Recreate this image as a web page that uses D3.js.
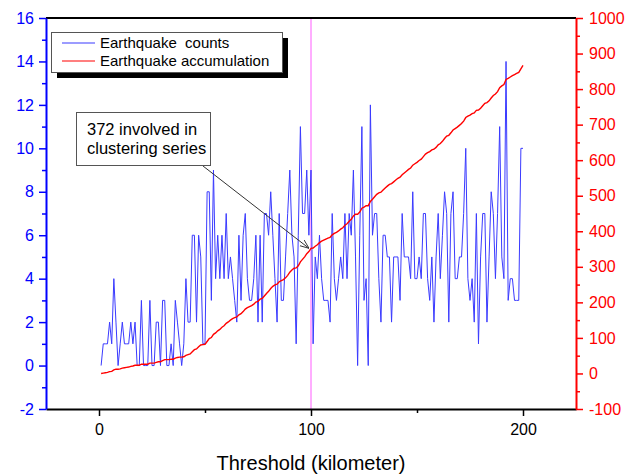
<!DOCTYPE html>
<html>
<head>
<meta charset="utf-8">
<script src="https://cdn.jsdelivr.net/npm/d3@7/dist/d3.min.js"></script>
<style>
  body { margin: 0; background: #fff; }
  text { font-family: Arial, "Liberation Sans", sans-serif; }
</style>
</head>
<body>
<svg id="chart" width="637" height="475"></svg>
<script>
// earthquake counts for threshold 1..200 km
var counts = [
  0,1,1,1,2,1,4,2,0,1,
  2,1,1,1,2,1,2,0,0,3,
  0,0,0,3,0,0,2,2,0,3,
  3,0,0,1,0,3,2,1,0,1,
  4,2,2,6,6,2,6,5,1,1,
  8,8,3,9,4,6,4,6,4,7,
  4,5,4,3,2,6,3,6,7,4,
  3,3,4,6,2,6,2,7,7,6,
  8,6,4,2,7,3,3,5,7,9,
  6,5,1,6,11,7,7,9,6,9,
  1,5,4,6,4,3,3,3,2,7,
  4,3,4,5,4,7,4,7,6,9,
  5,0,6,11,3,4,0,12,6,7,
  7,4,2,6,6,5,5,2,5,5,
  5,3,7,5,5,5,4,8,4,4,
  5,4,7,7,4,3,5,2,5,7,
  4,6,8,7,2,7,8,4,4,5,
  5,7,10,4,3,4,2,7,1,5,
  7,7,2,5,8,7,4,7,11,5,
  4,14,3,4,4,3,3,3,10,10
];

// accumulated earthquakes (right axis)
var accumulation = [
  0,1,2,3,5,6,10,12,12,13,
  15,16,17,18,20,21,23,23,23,26,
  26,26,26,29,29,29,31,33,33,36,
  39,39,39,40,40,43,45,46,46,47,
  51,53,55,61,67,69,75,80,81,82,
  90,98,101,110,114,120,124,130,134,141,
  145,150,154,157,159,165,168,174,181,185,
  188,191,195,201,203,209,211,218,225,231,
  239,245,249,251,258,261,264,269,276,285,
  291,296,297,303,314,321,328,337,343,352,
  353,358,362,368,372,375,378,381,383,390,
  394,397,401,406,410,417,421,428,434,443,
  448,448,454,465,468,472,472,484,490,497,
  504,508,510,516,522,527,532,534,539,544,
  549,552,559,564,569,574,578,586,590,594,
  599,603,610,617,621,624,629,631,636,643,
  647,653,661,668,670,677,685,689,693,698,
  703,710,720,724,727,731,733,740,741,746,
  753,760,762,767,775,782,786,793,804,809,
  813,827,830,834,838,841,844,847,857,867
];

var xTicks = [0, 100, 200];
var xMinor = [50, 150];
var leftTicks = [-2, 0, 2, 4, 6, 8, 10, 12, 14, 16];
var leftMinor = [-1, 1, 3, 5, 7, 9, 11, 13, 15];
var rightTicks = [-100, 0, 100, 200, 300, 400, 500, 600, 700, 800, 900, 1000];
var rightMinor = [-50, 50, 150, 250, 350, 450, 550, 650, 750, 850, 950];
var markerX = 100;
var seriesNames = ["Earthquake  counts", "Earthquake accumulation"];

var blue = "#3a3aff", red = "#ff0000";
var plain = function(d) { return String(d); };

var svg = d3.select("#chart");
svg.append("rect").attr("width", 637).attr("height", 475).attr("fill", "#fff");

var x = d3.scaleLinear().domain([-25, 225]).range([46, 576]);
var yL = d3.scaleLinear().domain([-2, 16]).range([409, 18]);
var yR = d3.scaleLinear().domain([-100, 1000]).range([409, 18]);

// vertical marker line
svg.append("line")
  .attr("x1", x(markerX)).attr("x2", x(markerX))
  .attr("y1", 18).attr("y2", 409)
  .attr("stroke", "#ff5cff").attr("stroke-width", 1);

var lineCounts = d3.line()
  .x(function(d, i) { return x(i + 1); })
  .y(function(d) { return yL(d); });
var lineAcc = d3.line()
  .x(function(d, i) { return x(i + 1); })
  .y(function(d) { return yR(d); });

svg.append("path").datum(counts)
  .attr("d", lineCounts)
  .attr("fill", "none").attr("stroke", blue).attr("stroke-width", 1);

svg.append("path").datum(accumulation)
  .attr("d", lineAcc)
  .attr("fill", "none").attr("stroke", red).attr("stroke-width", 1.4);

// axes
function styleAxis(g, color) {
  g.select(".domain").attr("stroke", color).attr("stroke-width", 2);
  g.selectAll(".tick line").attr("stroke", color).attr("stroke-width", 1.5);
  g.selectAll(".tick text").attr("fill", color)
    .style("font-size", "16px").style("font-family", "Arial, 'Liberation Sans', sans-serif");
}

var gx = svg.append("g").attr("transform", "translate(0,409)")
  .call(d3.axisBottom(x).tickValues(xTicks).tickFormat(plain).tickSize(7).tickSizeOuter(0).tickPadding(8));
styleAxis(gx, "#000");
var gxm = svg.append("g").attr("transform", "translate(0,409)")
  .call(d3.axisBottom(x).tickValues(xMinor).tickSize(4).tickFormat(""));
gxm.select(".domain").remove();
gxm.selectAll("line").attr("stroke", "#000").attr("stroke-width", 1.5);

// top frame
svg.append("line").attr("x1", 46).attr("x2", 576).attr("y1", 18).attr("y2", 18)
  .attr("stroke", "#000").attr("stroke-width", 2);

var gl = svg.append("g").attr("transform", "translate(46,0)")
  .call(d3.axisLeft(yL).tickValues(leftTicks).tickFormat(plain).tickSize(7).tickSizeOuter(0).tickPadding(5));
styleAxis(gl, "#0000ff");
var glm = svg.append("g").attr("transform", "translate(46,0)")
  .call(d3.axisLeft(yL).tickValues(leftMinor).tickSize(4).tickFormat(""));
glm.select(".domain").remove();
glm.selectAll("line").attr("stroke", "#0000ff").attr("stroke-width", 1.5);

var gr = svg.append("g").attr("transform", "translate(576,0)")
  .call(d3.axisRight(yR).tickValues(rightTicks).tickFormat(plain).tickSize(7).tickSizeOuter(0).tickPadding(6));
styleAxis(gr, "#ff0000");
var grm = svg.append("g").attr("transform", "translate(576,0)")
  .call(d3.axisRight(yR).tickValues(rightMinor).tickSize(4).tickFormat(""));
grm.select(".domain").remove();
grm.selectAll("line").attr("stroke", "#ff0000").attr("stroke-width", 1.5);

// axis title
svg.append("text")
  .attr("x", 311).attr("y", 470)
  .attr("text-anchor", "middle")
  .style("font-size", "20px")
  .text("Threshold (kilometer)");

// legend
var lg = svg.append("g");
lg.append("rect").attr("x", 57).attr("y", 38).attr("width", 231).attr("height", 40).attr("fill", "#000");
lg.append("rect").attr("x", 51.5).attr("y", 32.5).attr("width", 231).attr("height", 40)
  .attr("fill", "#fff").attr("stroke", "#555").attr("stroke-width", 1);
[blue, red].forEach(function(c, i) {
  var yy = 43 + i * 18;
  lg.append("line").attr("x1", 62).attr("x2", 95).attr("y1", yy).attr("y2", yy)
    .style("stroke", c).attr("stroke-width", 1.2);
  lg.append("text").attr("x", 100).attr("y", yy + 5)
    .style("font-size", "15px").style("white-space", "pre")
    .text(seriesNames[i]);
});

// annotation
svg.append("defs").append("marker")
  .attr("id", "arr").attr("viewBox", "0 -5 10 10")
  .attr("refX", 10).attr("refY", 0)
  .attr("markerWidth", 9).attr("markerHeight", 9)
  .attr("markerUnits", "userSpaceOnUse")
  .attr("orient", "auto")
  .append("path").attr("d", "M0,-4L10,0L0,4")
  .attr("fill", "none").attr("stroke", "#333").attr("stroke-width", 1);

svg.append("line")
  .attr("x1", 203).attr("y1", 166)
  .attr("x2", x(markerX) - 2).attr("y2", yR(accumulation[markerX - 1]))
  .attr("stroke", "#333").attr("stroke-width", 1)
  .attr("marker-end", "url(#arr)");

svg.append("rect").attr("x", 76.5).attr("y", 112.5).attr("width", 134).attr("height", 53)
  .attr("fill", "#fff").attr("stroke", "#555").attr("stroke-width", 1);
svg.append("text").attr("x", 87).attr("y", 135).style("font-size", "16.5px").text("372 involved in");
svg.append("text").attr("x", 87).attr("y", 154).style("font-size", "16.5px").text("clustering series");
</script>
</body>
</html>
